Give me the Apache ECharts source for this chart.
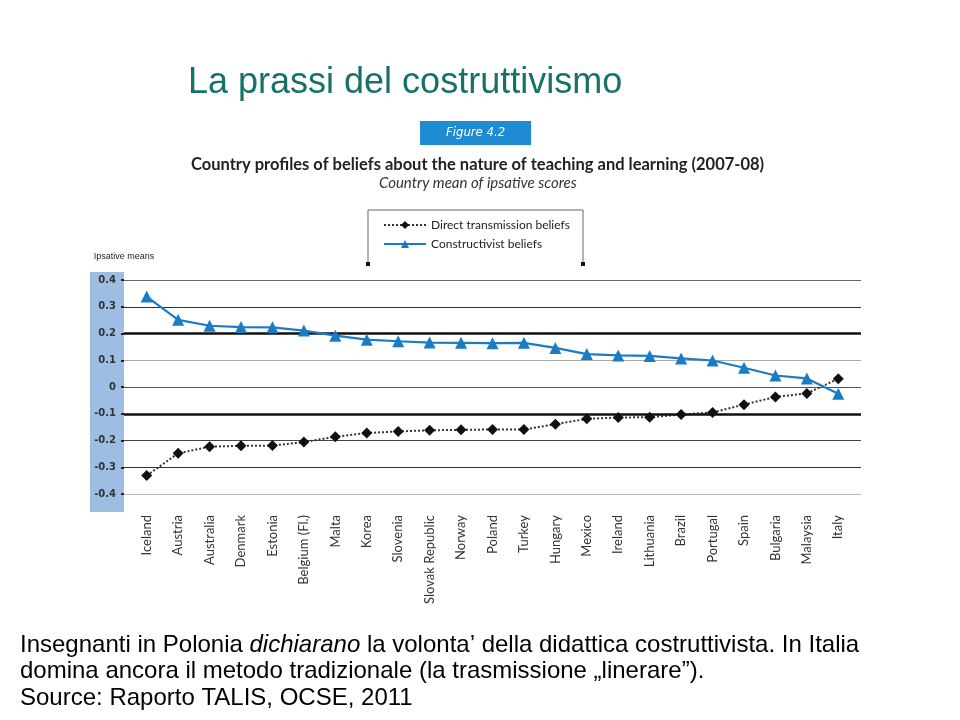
<!DOCTYPE html>
<html>
<head>
<meta charset="utf-8">
<script src="https://cdn.jsdelivr.net/npm/echarts@6/dist/echarts.min.js"></script>
<style>
  html, body { margin: 0; padding: 0; background: #fff; }
  #main { width: 960px; height: 720px; }
</style>
</head>
<body>
<div id="main"></div>
<script>
var countries = ['Iceland', 'Austria', 'Australia', 'Denmark', 'Estonia', 'Belgium (Fl.)', 'Malta', 'Korea',
  'Slovenia', 'Slovak Republic', 'Norway', 'Poland', 'Turkey', 'Hungary', 'Mexico', 'Ireland',
  'Lithuania', 'Brazil', 'Portugal', 'Spain', 'Bulgaria', 'Malaysia', 'Italy'];

var directValues = [-0.331, -0.248, -0.223, -0.220, -0.219, -0.206, -0.186, -0.172, -0.166, -0.162, -0.160, -0.159,
  -0.159, -0.139, -0.119, -0.114, -0.113, -0.103, -0.095, -0.066, -0.037, -0.024, 0.031];

var constructivistValues = [0.338, 0.251, 0.229, 0.224, 0.223, 0.211, 0.192, 0.177, 0.171, 0.166, 0.165, 0.164,
  0.165, 0.146, 0.123, 0.118, 0.116, 0.107, 0.099, 0.072, 0.043, 0.032, -0.025];

var yMin = -0.4, yMax = 0.4, yStep = 0.1;
var thickLines = [0.2, -0.1];

var myChart = echarts.init(document.getElementById('main'));

option = {
    backgroundColor: '#fff',
    title: [{
        text: 'La prassi del costruttivismo',
        left: 183, top: 60,
        textStyle: { fontFamily: 'Liberation Sans', fontSize: 36, fontWeight: 'normal', color: '#17716b' }
    }, {
        text: 'Figure 4.2',
        left: 420, top: 121,
        padding: [5, 26, 6, 26],
        backgroundColor: '#1e8bd2',
        textStyle: { fontFamily: 'DejaVu Sans Condensed', fontStyle: 'italic', fontSize: 13, fontWeight: 'normal', color: '#fff' }
    }, {
        text: 'Country profiles of beliefs about the nature of teaching and learning (2007-08)',
        left: 186, top: 151,
        textStyle: { fontFamily: 'Lato', fontSize: 16.5, fontWeight: 'bold', color: '#222' }
    }, {
        text: 'Country mean of ipsative scores',
        left: 374, top: 171,
        textStyle: { fontFamily: 'Lato', fontSize: 15, fontStyle: 'italic', fontWeight: 'normal', color: '#333' }
    }],
    legend: {
        orient: 'vertical',
        left: 378, top: 214,
        itemWidth: 42, itemHeight: 10, itemGap: 7,
        textStyle: { fontFamily: 'Lato', fontSize: 12, color: '#222' },
        data: ['Direct transmission beliefs', 'Constructivist beliefs']
    },
    grid: [
        { left: 131, right: 106, top: 280, bottom: 226 },
        { left: 124, right: 99, top: 280, bottom: 226 }
    ],
    xAxis: [{
        type: 'category',
        gridIndex: 0,
        data: countries,
        boundaryGap: true,
        axisLine: { show: false },
        axisTick: { show: false },
        axisLabel: { rotate: 90, margin: 21, fontFamily: 'Lato', fontSize: 13, color: '#333' }
    }, {
        type: 'value', gridIndex: 1, min: 0, max: 1, show: false
    }],
    yAxis: [{
        type: 'value', gridIndex: 0, min: yMin, max: yMax, show: false
    }, {
        type: 'value',
        gridIndex: 1,
        min: yMin, max: yMax, interval: yStep,
        name: 'Ipsative means',
        nameLocation: 'end',
        nameGap: 19,
        nameTextStyle: { fontFamily: 'Liberation Sans', fontSize: 9, color: '#222', align: 'center' },
        axisLine: { show: false },
        axisTick: { show: true, length: 3, lineStyle: { color: '#222', width: 2 } },
        axisLabel: {
            margin: 8,
            fontFamily: 'DejaVu Sans',
            fontSize: 10,
            fontWeight: 'bold',
            color: '#333',
            formatter: function (v) { return Math.abs(v) < 1e-9 ? '0' : v.toFixed(1); }
        },
        splitLine: {
            show: true,
            lineStyle: {
                width: 1.2,
                color: ['#bbbbbb', '#333', '#444', '#222', '#555', '#aaaaaa', '#222', '#333', '#666']
            }
        }
    }],
    series: [{
        name: 'Direct transmission beliefs',
        type: 'line',
        xAxisIndex: 0, yAxisIndex: 0,
        data: directValues,
        symbol: 'diamond',
        symbolSize: 11,
        itemStyle: { color: '#111' },
        lineStyle: { color: '#333', width: 2, type: [2, 2] },
        z: 4
    }, {
        name: 'Constructivist beliefs',
        type: 'line',
        xAxisIndex: 0, yAxisIndex: 0,
        data: constructivistValues,
        symbol: 'triangle',
        symbolSize: 12,
        itemStyle: { color: '#1b7cc6' },
        lineStyle: { color: '#1b7cc6', width: 2.2 },
        z: 5
    }, {
        name: 'thick',
        type: 'line',
        xAxisIndex: 1, yAxisIndex: 1,
        data: [],
        silent: true,
        markLine: {
            silent: true,
            symbol: 'none',
            label: { show: false },
            lineStyle: { color: '#111', width: 2.6, type: 'solid' },
            data: thickLines.map(function (v) { return { yAxis: v }; })
        },
        z: 2
    }],
    graphic: [{
        type: 'rect',
        z: -10,
        shape: { x: 90, y: 272, width: 34, height: 240 },
        style: { fill: '#9dbde3' }
    }, {
        type: 'polyline',
        shape: { points: [[368, 264], [368, 210], [583, 210], [583, 264]] },
        style: { stroke: '#666', lineWidth: 1, fill: null }
    }, {
        type: 'rect', shape: { x: 366, y: 262, width: 4, height: 4 }, style: { fill: '#111' }
    }, {
        type: 'rect', shape: { x: 581, y: 262, width: 4, height: 4 }, style: { fill: '#111' }
    }, {
        type: 'text',
        left: 20, top: 632,
        style: {
            text: 'Insegnanti in Polonia {i|dichiarano} la volonta\u2019 della didattica costruttivista. In Italia\ndomina ancora il metodo tradizionale (la trasmissione \u201elinerare\u201d).\nSource: Raporto TALIS, OCSE, 2011',
            font: '24px "Liberation Sans"',
            fill: '#000',
            lineHeight: 26.5,
            rich: {
                i: { font: 'italic 24px "Liberation Sans"', fill: '#000', lineHeight: 26.5 }
            }
        }
    }]
};

myChart.setOption(option);
</script>
</body>
</html>
